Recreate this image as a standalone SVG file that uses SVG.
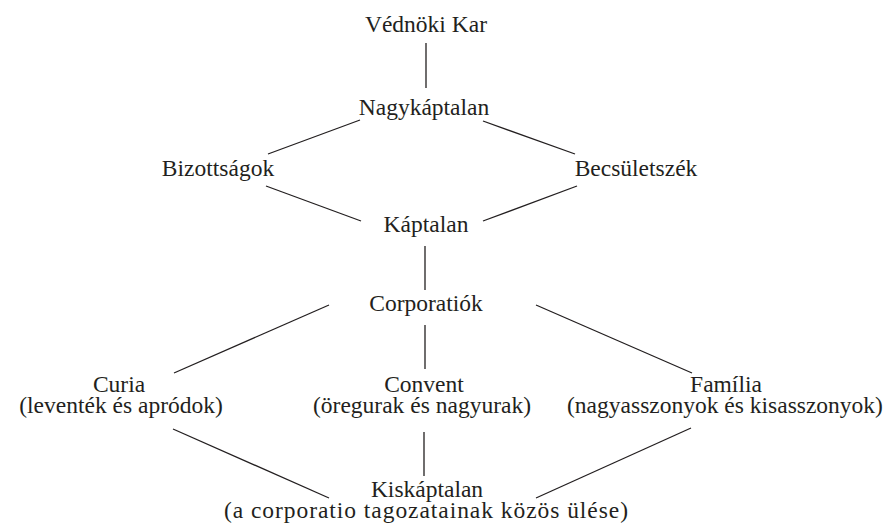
<svg xmlns="http://www.w3.org/2000/svg" width="884" height="528" viewBox="0 0 884 528">
<style>
text{font-family:"Liberation Serif","Times New Roman",serif;font-size:23.5px;fill:#231f20;text-anchor:middle}
.c line{stroke:#231f20;stroke-width:1.3}
</style>
<rect width="884" height="528" fill="#fff"/>
<g class="c" id="connectors">
<line x1="426" y1="43" x2="426" y2="88"/>
<line x1="360" y1="120" x2="268" y2="154"/>
<line x1="483" y1="121" x2="575" y2="154"/>
<line x1="266" y1="186" x2="361" y2="221"/>
<line x1="483" y1="221" x2="577" y2="186"/>
<line x1="425" y1="246" x2="425" y2="290"/>
<line x1="329" y1="305" x2="174" y2="373"/>
<line x1="536" y1="305" x2="692" y2="373"/>
<line x1="425" y1="325" x2="425" y2="369"/>
<line x1="173" y1="429" x2="329" y2="498"/>
<line x1="424" y1="432" x2="424" y2="476"/>
<line x1="536" y1="498" x2="691" y2="428"/>
</g>
<g id="vednoki"><text x="426" y="32">Védnöki Kar</text></g>
<g id="nagykaptalan"><text x="424" y="115">Nagykáptalan</text></g>
<g id="bizottsagok"><text x="218" y="176">Bizottságok</text></g>
<g id="becsuletszek"><text x="636" y="176">Becsületszék</text></g>
<g id="kaptalan"><text x="426" y="232">Káptalan</text></g>
<g id="corporatiok"><text x="426" y="311">Corporatiók</text></g>
<g id="curia"><text x="119" y="392">Curia</text><text x="121" y="413">(leventék és apródok)</text></g>
<g id="convent"><text x="424" y="392">Convent</text><text x="422" y="413">(öregurak és nagyurak)</text></g>
<g id="familia"><text x="726" y="392">Família</text><text x="725" y="413">(nagyasszonyok és kisasszonyok)</text></g>
<g id="kiskaptalan"><text x="427" y="497">Kiskáptalan</text><text x="426" y="518" textLength="404" lengthAdjust="spacing">(a corporatio tagozatainak közös ülése)</text></g>
</svg>
